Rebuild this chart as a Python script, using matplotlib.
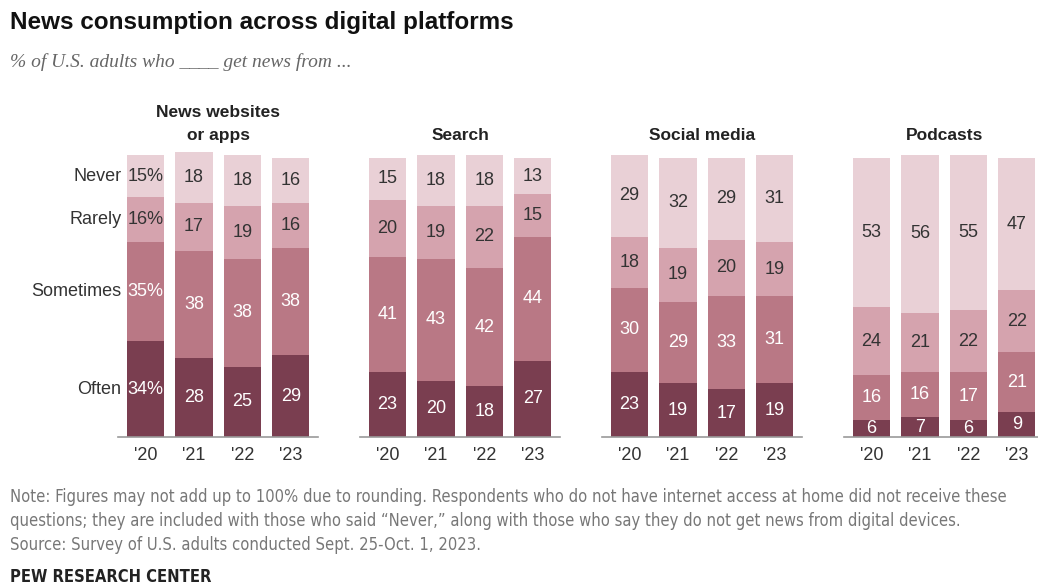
import matplotlib.pyplot as plt
from matplotlib import font_manager

# Survey data: share of U.S. adults, by platform and year
platforms = ["News websites\nor apps", "Search", "Social media", "Podcasts"]
years = ["'20", "'21", "'22", "'23"]
frequencies = ["Often", "Sometimes", "Rarely", "Never"]

often = [[34, 28, 25, 29], [23, 20, 18, 27], [23, 19, 17, 19], [6, 7, 6, 9]]
sometimes = [[35, 38, 38, 38], [41, 43, 42, 44], [30, 29, 33, 31], [16, 16, 17, 21]]
rarely = [[16, 17, 19, 16], [20, 19, 22, 15], [18, 19, 20, 19], [24, 21, 22, 22]]
never = [[15, 18, 18, 16], [15, 18, 18, 13], [29, 32, 29, 31], [53, 56, 55, 47]]

colors = ["#7a3e50", "#b97885", "#d5a3ae", "#e9d0d6"]
text_colors = ["white", "white", "#333333", "#333333"]

# pick a condensed face for the footnotes when one is installed
fonts = font_manager.fontManager.ttflist
names = {f.name for f in fonts}
note_kw = {"family": "Liberation Sans"}
if "Liberation Sans Narrow" in names:
    note_kw = {"family": "Liberation Sans Narrow"}
elif any(f.name == "DejaVu Sans" and "condensed" in str(f.stretch) for f in fonts):
    note_kw = {"family": "DejaVu Sans", "stretch": "condensed"}

sans = "Liberation Sans"

fig = plt.figure(figsize=(10.38, 5.84), dpi=100)
ax = fig.add_axes([116.5 / 1038, 147 / 584, 922 / 1038, 282 / 584])
ax.set_xlim(-0.6, 18.45)
ax.set_ylim(0, 100)
ax.axis("off")

width = 0.77
gap = 5
series = [often, sometimes, rarely, never]

for g, name in enumerate(platforms):
    xs = [g * gap + i for i in range(len(years))]
    bottoms = [0] * len(years)
    for s, values in enumerate(series):
        vals = values[g]
        ax.bar(xs, vals, width, bottom=bottoms, color=colors[s], clip_on=False)
        for i, v in enumerate(vals):
            label = f"{v}%" if (g == 0 and i == 0) else str(v)
            ax.text(xs[i], bottoms[i] + v / 2, label, ha="center", va="center",
                    fontsize=13, color=text_colors[s], family=sans)
        bottoms = [b + v for b, v in zip(bottoms, vals)]
    # baseline under each group
    ax.plot([xs[0] - width / 2 - 0.18, xs[-1] + width / 2 + 0.18], [0, 0],
            color="#9a9a9a", lw=1.2, clip_on=False)
    for i, yr in enumerate(years):
        ax.text(xs[i], -6.4, yr, ha="center", va="center", fontsize=13,
                color="#333333", family=sans)
    lines = name.split("\n")
    for k, line in enumerate(reversed(lines)):
        ax.text(xs[0] + 1.5, 107 + k * 8.2, line, ha="center", va="center",
                fontsize=12.5, fontweight="bold", color="#222222", family=sans)

# row labels next to the first bar
bottom = 0
for s, values in enumerate(series):
    v = values[0][0]
    ax.text(-0.5, bottom + v / 2, frequencies[s], ha="right", va="center",
            fontsize=13, color="#333333", family=sans)
    bottom += v

fig.text(10 / 1038, 1 - 22 / 584, "News consumption across digital platforms",
         ha="left", va="center", fontsize=17.5, fontweight="bold", color="#111111", family=sans)
fig.text(10 / 1038, 1 - 62 / 584, "% of U.S. adults who ____ get news from ...",
         ha="left", va="center", fontsize=14, style="italic", color="#666666",
         family="Liberation Serif")

notes = [
    "Note: Figures may not add up to 100% due to rounding. Respondents who do not have internet access at home did not receive these",
    "questions; they are included with those who said \u201cNever,\u201d along with those who say they do not get news from digital devices.",
    "Source: Survey of U.S. adults conducted Sept. 25-Oct. 1, 2023.",
]
note_texts = []
for k, line in enumerate(notes):
    t = fig.text(10 / 1038, 1 - (497 + 24 * k) / 584, line, ha="left", va="center",
                 fontsize=12, color="#777777", **note_kw)
    note_texts.append(t)
credit = fig.text(10 / 1038, 1 - 577 / 584, "PEW RESEARCH CENTER", ha="left", va="center",
                  fontsize=12, fontweight="bold", color="#222222", **note_kw)

# shrink the footnote size so the longest line spans about 995 px
renderer = fig.canvas.get_renderer()
w = note_texts[0].get_window_extent(renderer).width
size = min(12, 12 * 995 / w)
for t in note_texts:
    t.set_fontsize(size)
credit.set_fontsize(size)

fig.savefig("out.png", dpi=100, facecolor="white")
